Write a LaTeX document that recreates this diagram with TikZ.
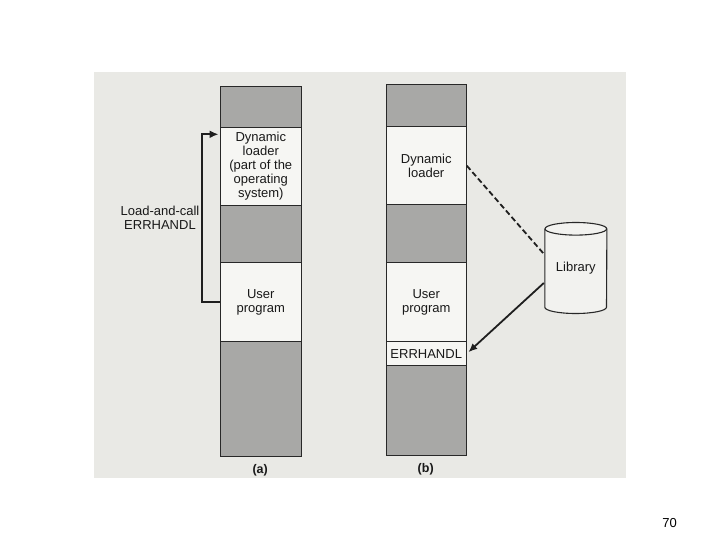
\documentclass[tikz,border=0pt]{standalone}
\usepackage{fontspec}
\setmainfont{Liberation Sans}
\usetikzlibrary{calc,arrows.meta}
\definecolor{scanbg}{RGB}{233,233,229}
\definecolor{blockgray}{RGB}{168,168,166}
\definecolor{boxwhite}{RGB}{246,246,243}
\definecolor{inkline}{RGB}{40,40,40}
\begin{document}
\begin{tikzpicture}[x=1pt,y=-1pt,
  blk/.style={draw=inkline,line width=1.1pt,inner sep=0pt,anchor=north west,
    font=\fontsize{13}{14}\selectfont,align=center,text=black!90},
  grayblk/.style={blk,fill=blockgray},
  whiteblk/.style={blk,fill=boxwhite},
  conn/.style={draw=black!88,line width=1.8pt},
  lbl/.style={font=\fontsize{13}{13.7}\selectfont,align=center,text=black!90}]
\useasboundingbox (0,0) rectangle (720,540);
\fill[white] (0,0) rectangle (720,540);
\fill[scanbg] (94,72) rectangle (626,478);
% column (a)
\node[grayblk,minimum width=81.5pt,minimum height=41.3pt] (ga1) at (219.5,85.7) {};
\node[whiteblk,minimum width=81.5pt,minimum height=78pt] (dla) at (219.5,127) {Dynamic\\loader\\(part of the\\operating\\system)};
\node[grayblk,minimum width=81.5pt,minimum height=57.3pt] (ga2) at (219.5,205) {};
\node[whiteblk,minimum width=81.5pt,minimum height=79pt] (ua) at (219.5,262.3) {User\\program};
\node[grayblk,minimum width=81.5pt,minimum height=114.7pt] (ga3) at (219.5,341.3) {};
\node[font=\bfseries\fontsize{12.5}{14}\selectfont,text=black!90] (labA) at (260.2,470) {(a)};
% column (b)
\node[grayblk,minimum width=80pt,minimum height=41.7pt] (gb1) at (385.7,84.3) {};
\node[whiteblk,minimum width=80pt,minimum height=78.3pt] (dlb) at (385.7,126) {Dynamic\\loader};
\node[grayblk,minimum width=80pt,minimum height=57.4pt] (gb2) at (385.7,204.3) {};
\node[whiteblk,minimum width=80pt,minimum height=79.3pt] (ub) at (385.7,261.7) {User\\program};
\node[whiteblk,minimum width=80pt,minimum height=24pt] (errb) at (385.7,341) {ERRHANDL};
\node[grayblk,minimum width=80pt,minimum height=90pt] (gb3) at (385.7,365) {};
\node[font=\bfseries\fontsize{12.5}{14}\selectfont,text=black!90] (labB) at (425.7,469) {(b)};
% library cylinder
\node[minimum width=61.7pt,minimum height=78pt,inner sep=0pt] (lib) at (575.85,268) {};
\draw[draw=inkline,line width=1.1pt,fill=scanbg!60!white]
  (lib.north west) -- (lib.south west)
  arc[start angle=180,end angle=360,x radius=30.85pt,y radius=6.3pt]
  -- (lib.north east);
\draw[draw=inkline,line width=1.1pt,fill=scanbg!60!white] (lib.north) ellipse[x radius=30.85pt,y radius=6.3pt];
\node[lbl] (libtext) at (lib.center) {Library};
% load-and-call arrow
\node[lbl] (lac) at (160,217.5) {Load-and-call\\ERRHANDL};
\coordinate (ae) at ($(dla.north west)+(-1,7.3)$);
\draw[conn,-{Latex[length=9pt,width=8pt]}] (ua.west) -- ++(-17.6,0) |- (ae);
% dashed link and load arrow
\draw[conn,dash pattern=on 5.5pt off 3pt] (dlb.east) -- ($(lib.west)+(0,-13)$);
\draw[conn,-{Latex[length=9pt,width=7.5pt]}] ($(lib.west)+(-1,15)$) -- ($(errb.east)+(1.5,-1.3)$);
% page number
\node[font=\fontsize{13}{15}\selectfont] (pg) at (669.5,523) {70};
\end{tikzpicture}
\end{document}
